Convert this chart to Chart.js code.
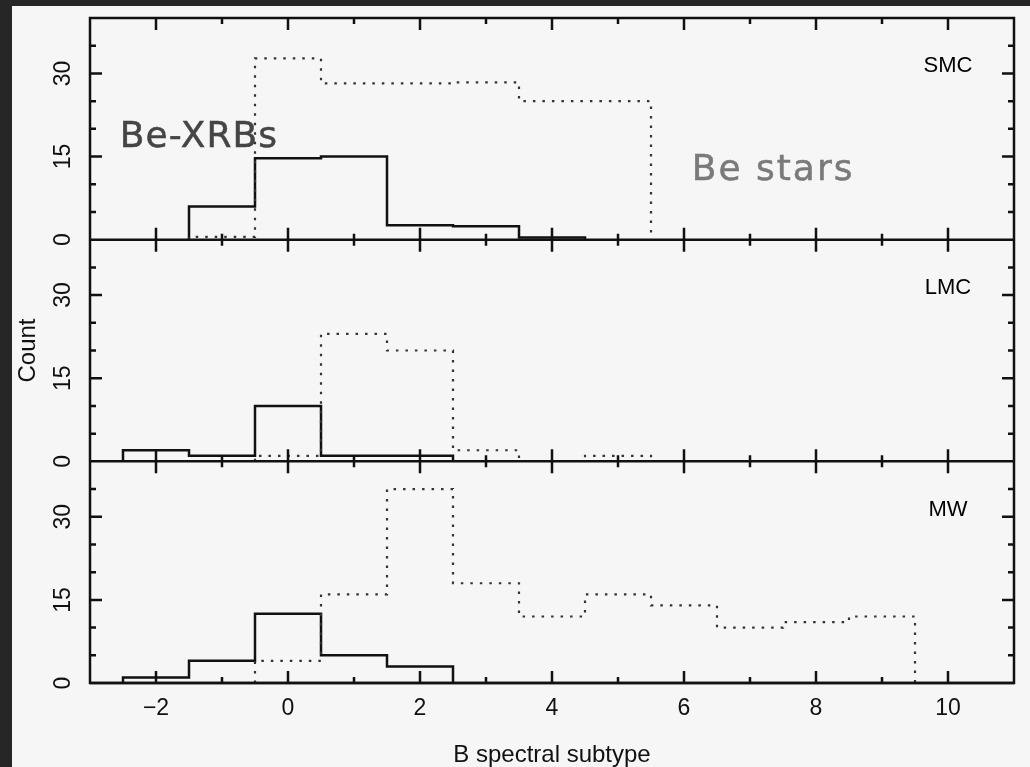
<!DOCTYPE html>
<html>
<head>
<meta charset="utf-8">
<title>B spectral subtype - Be-XRBs e Be stars</title>
<script src="https://cdn.jsdelivr.net/npm/chart.js@4.4.1/dist/chart.umd.min.js"></script>
<style>
  html, body { margin: 0; padding: 0; background: #262626; }
  #wrap { width: 1030px; height: 767px; }
</style>
</head>
<body>
<div id="wrap"><canvas id="histChart" width="1030" height="767"></canvas></div>
<script>
// valores (centro de cada bin = subtipo B)
const subtypes = [-2, -1, 0, 1, 2, 3, 4, 5, 6, 7, 8, 9, 10];

const smcXrb = [0, 6, 14.7, 15, 2.6, 2.4, 0.4, 0, 0, 0, 0, 0, 0];
const smcBe  = [0, 0.5, 32.7, 28.2, 28.2, 28.4, 25, 25, 0, 0, 0, 0, 0];
const lmcXrb = [2, 1, 10, 1, 1, 0, 0, 0, 0, 0, 0, 0, 0];
const lmcBe  = [0, 0, 1, 23, 20, 2, 0, 1, 0, 0, 0, 0, 0];
const mwXrb  = [1, 4, 12.5, 5, 3, 0, 0, 0, 0, 0, 0, 0, 0];
const mwBe   = [0, 0, 4, 16, 35, 18, 12, 16, 14, 10, 11, 12, 0];

const panelNames = ['SMC', 'LMC', 'MW'];
const xTickLabels = [-2, 0, 2, 4, 6, 8, 10];
const xMinorTicks = [-1, 1, 3, 5, 7, 9];
const yTickLabels = [0, 15, 30];
const yMinorTicks = [5, 10, 20, 25, 35];

const fonte = '"Liberation Sans", Arial, sans-serif';
const panelIds = ['ySMC', 'yLMC', 'yMW'];

// transforma os bins em pontos de degrau (bordas em +-0.5)
function degraus(valores) {
    const first = valores.findIndex(v => v > 0);
    let last = valores.length - 1;
    while (last > 0 && !(valores[last] > 0)) last--;
    const pts = [{ x: subtypes[first] - 0.5, y: 0 }];
    for (let i = first; i <= last; i++) {
        pts.push({ x: subtypes[i] - 0.5, y: valores[i] });
    }
    pts.push({ x: subtypes[last] + 0.5, y: 0 });
    return pts;
}

function linhaCheia(valores, eixo) {
    return {
        data: degraus(valores), yAxisID: eixo, xAxisID: 'x',
        stepped: 'before', borderColor: '#111', borderWidth: 2.5,
        pointRadius: 0, fill: false
    };
}

function linhaPontilhada(valores, eixo) {
    return {
        data: degraus(valores), yAxisID: eixo, xAxisID: 'x',
        stepped: 'before', borderColor: '#333', borderWidth: 2.2,
        borderDash: [2.5, 7], pointRadius: 0, fill: false
    };
}

function eixoPainel(peso) {
    return {
        type: 'linear', min: 0, max: 40, position: 'left',
        stack: 'paineis', stackWeight: 1, weight: peso,
        grid: { display: false, drawTicks: false },
        border: { display: false },
        ticks: { display: false },
        afterFit: function(s) { s.width = 90; }
    };
}

// textos escritos a mao na figura
const anotacoes = [
    { text: 'Be-XRBs', x: -1.35, y: 18.4, color: '#454545', espaco: '1px' },
    { text: 'Be stars', x: 7.35, y: 12.5, color: '#7a7a7a', espaco: '2px' }
];

// plugin que desenha fundo, moldura, ticks e rotulos
const moldura = {
    id: 'moldura',
    beforeDraw(chart) {
        const ctx = chart.ctx;
        ctx.save();
        ctx.fillStyle = '#262626';
        ctx.fillRect(0, 0, chart.width, chart.height);
        ctx.fillStyle = '#f6f6f6';
        ctx.fillRect(12, 6, chart.width - 12, chart.height - 6);
        ctx.restore();
    },
    afterDatasetsDraw(chart) {
        const ctx = chart.ctx;
        const area = chart.chartArea;
        const x = chart.scales.x;
        ctx.save();
        ctx.strokeStyle = '#111';
        ctx.lineWidth = 2.5;
        ctx.strokeRect(area.left, area.top, area.right - area.left, area.bottom - area.top);

        panelIds.forEach((id, i) => {
            const y = chart.scales[id];
            const y0 = y.getPixelForValue(0);
            const yTop = y.getPixelForValue(40);

            ctx.beginPath();
            ctx.moveTo(area.left, y0);
            ctx.lineTo(area.right, y0);

            xTickLabels.concat(xMinorTicks).forEach(v => {
                const len = xTickLabels.includes(v) ? 12 : 6;
                const px = x.getPixelForValue(v);
                ctx.moveTo(px, y0);
                ctx.lineTo(px, y0 - len);
                ctx.moveTo(px, yTop);
                ctx.lineTo(px, yTop + len);
            });

            yTickLabels.concat(yMinorTicks).forEach(v => {
                if (v === 0) return;
                const len = yTickLabels.includes(v) ? 12 : 6;
                const py = y.getPixelForValue(v);
                ctx.moveTo(area.left, py);
                ctx.lineTo(area.left + len, py);
                ctx.moveTo(area.right, py);
                ctx.lineTo(area.right - len, py);
            });
            ctx.stroke();

            // rotulos do eixo y (girados)
            ctx.fillStyle = '#111';
            ctx.font = '23px ' + fonte;
            ctx.textAlign = 'center';
            ctx.textBaseline = 'middle';
            yTickLabels.forEach(v => {
                ctx.save();
                ctx.translate(area.left - 26, y.getPixelForValue(v));
                ctx.rotate(-Math.PI / 2);
                ctx.fillText(String(v), 0, 0);
                ctx.restore();
            });

            // nome do painel
            ctx.fillStyle = '#000';
            ctx.font = '22px ' + fonte;
            ctx.fillText(panelNames[i], x.getPixelForValue(10), y.getPixelForValue(31.3));
        });

        // titulo do eixo y
        const meio = chart.scales.yLMC;
        ctx.save();
        ctx.fillStyle = '#111';
        ctx.font = '24px ' + fonte;
        ctx.translate(28, (meio.top + meio.bottom) / 2);
        ctx.rotate(-Math.PI / 2);
        ctx.fillText('Count', 0, 0);
        ctx.restore();

        // anotacoes
        const ySmc = chart.scales.ySMC;
        ctx.font = '36px "DejaVu Sans", sans-serif';
        ctx.lineWidth = 0.5;
        anotacoes.forEach(a => {
            ctx.letterSpacing = a.espaco;
            ctx.fillStyle = a.color;
            ctx.strokeStyle = a.color;
            const px = x.getPixelForValue(a.x);
            const py = ySmc.getPixelForValue(a.y);
            ctx.fillText(a.text, px, py);
            ctx.strokeText(a.text, px, py);
        });
        ctx.restore();
    }
};

const ctx = document.getElementById('histChart').getContext('2d');
const histChart = new Chart(ctx, {
    type: 'line',
    data: {
        datasets: [
            linhaPontilhada(smcBe, 'ySMC'),
            linhaCheia(smcXrb, 'ySMC'),
            linhaPontilhada(lmcBe, 'yLMC'),
            linhaCheia(lmcXrb, 'yLMC'),
            linhaPontilhada(mwBe, 'yMW'),
            linhaCheia(mwXrb, 'yMW')
        ]
    },
    options: {
        responsive: false,
        animation: false,
        devicePixelRatio: 1,
        layout: { padding: { top: 18, right: 16, left: 0, bottom: 0 } },
        plugins: { legend: { display: false }, tooltip: { enabled: false } },
        scales: {
            x: {
                type: 'linear', min: -3, max: 11, position: 'bottom',
                afterBuildTicks: function(s) { s.ticks = xTickLabels.map(v => ({ value: v })); },
                afterFit: function(s) { s.height = 84; },
                grid: { display: false, drawTicks: false },
                border: { display: false },
                ticks: {
                    color: '#111', padding: 12, maxRotation: 0, autoSkip: false,
                    font: { family: fonte, size: 23 },
                    callback: v => String(v).replace('-', '\u2212')
                },
                title: {
                    display: true, text: 'B spectral subtype', color: '#111',
                    font: { family: fonte, size: 24, lineHeight: 1 },
                    padding: { top: 0, bottom: 0 }
                }
            },
            ySMC: eixoPainel(3),
            yLMC: eixoPainel(2),
            yMW: eixoPainel(1)
        }
    },
    plugins: [moldura]
});
</script>
</body>
</html>
